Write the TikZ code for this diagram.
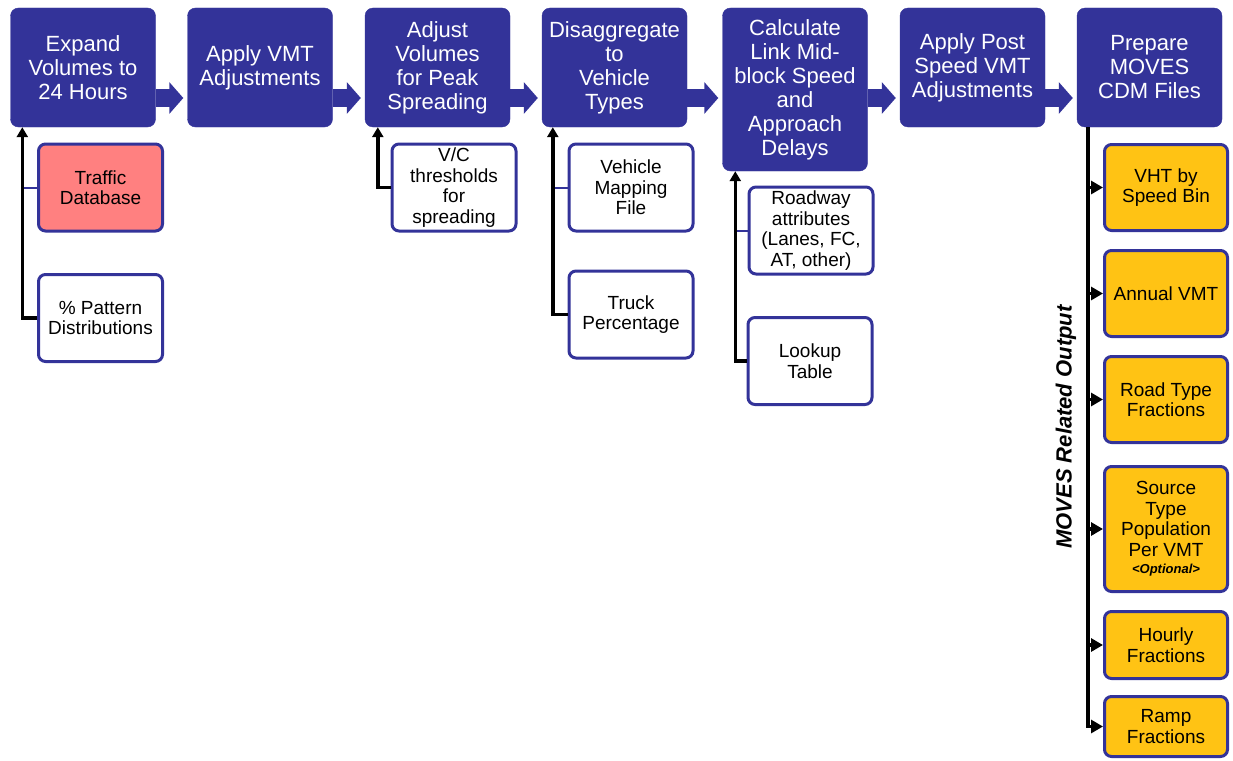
\documentclass[tikz,border=0pt]{standalone}
\usepackage{fontspec}
\setmainfont{Liberation Sans}
\usetikzlibrary{arrows.meta}
\definecolor{navy}{RGB}{51,51,153}
\definecolor{rose}{RGB}{255,128,128}
\definecolor{gold}{RGB}{255,195,20}
\begin{document}
\begin{tikzpicture}[x=1pt,y=-1pt,
    stage/.style={fill=navy,draw=navy,rounded corners=8pt,text=white,
          align=center,minimum width=145pt,minimum height=119pt,inner sep=0pt,
          font=\fontsize{22}{24}\selectfont},
    input/.style={fill=white,draw=navy,line width=3pt,rounded corners=7pt,
          align=center,minimum width=124pt,minimum height=87pt,inner sep=0pt,
          font=\fontsize{19}{20.5}\selectfont},
    output/.style={input,fill=gold,minimum width=123pt},
    flow/.style={draw=navy,line width=18pt,-{Triangle[length=14pt,width=31pt]},
          shorten >=4pt},
    feed/.style={draw=black,line width=3.5pt,-{Triangle[length=10pt,width=11pt]}},
    tie/.style={draw=navy,line width=2pt},
    tip/.style={draw=black,line width=3.5pt,-{Triangle[length=12pt,width=13pt]}}]
  \useasboundingbox (0,0) rectangle (1233,760);
  % main stages
  \node[stage] (exp) at (83,67.5) {Expand\\Volumes to\\24 Hours};
  \node[stage] (vmt) at (260,67.5) {Apply VMT\\Adjustments};
  \node[stage] (peak) at (437.5,67.5) {Adjust\\Volumes\\for Peak\\Spreading};
  \node[stage] (dis) at (614.5,67.5) {Disaggregate\\to\\Vehicle\\Types};
  \node[stage,minimum height=163pt] (spd) at (795,89.5)
       {Calculate\\Link Mid-\\block Speed\\and\\Approach\\Delays};
  \node[stage] (post) at (972.5,67.5) {Apply Post\\Speed VMT\\Adjustments};
  \node[stage] (prep) at (1149.5,67.5) {Prepare\\MOVES\\CDM Files};
  \coordinate (lane) at (0,98);
  \draw[flow] (exp.east |- lane) -- (vmt.west |- lane);
  \draw[flow] (vmt.east |- lane) -- (peak.west |- lane);
  \draw[flow] (peak.east |- lane) -- (dis.west |- lane);
  \draw[flow] (dis.east |- lane) -- (spd.west |- lane);
  \draw[flow] (spd.east |- lane) -- (post.west |- lane);
  \draw[flow] (post.east |- lane) -- (prep.west |- lane);
  % inputs
  \node[input,fill=rose] (traffic) at (100.5,187.5) {Traffic\\Database};
  \node[input] (pattern) at (100.5,318) {\% Pattern\\Distributions};
  \node[input] (vc) at (454,187.5) {V/C\\thresholds\\for\\spreading};
  \node[input] (vmap) at (631,187.5) {Vehicle\\Mapping\\File};
  \node[input] (truck) at (631,314.5) {Truck\\Percentage};
  \node[input] (road) at (811,230.5) {Roadway\\attributes\\(Lanes, FC,\\AT, other)};
  \node[input] (lookup) at (810,361) {Lookup\\Table};
  \coordinate (t1) at ([xshift=12pt]exp.south west);
  \coordinate (t3) at ([xshift=13pt]peak.south west);
  \coordinate (t4) at ([xshift=11pt]dis.south west);
  \coordinate (t5) at ([xshift=13pt]spd.south west);
  \draw[tie] (traffic.west) -- (traffic.west -| t1);
  \draw[feed] (pattern.west) -| (t1);
  \draw[feed] (vc.west) -| (t3);
  \draw[tie] (vmap.west) -- (vmap.west -| t4);
  \draw[feed] (truck.west) -| (t4);
  \draw[tie] (road.west) -- (road.west -| t5);
  \draw[feed] (lookup.west) -| (t5);
  % outputs
  \node[output,minimum height=86pt] (vht) at (1166,187.5) {VHT by\\Speed Bin};
  \node[output,minimum height=86pt] (annual) at (1166,293.5) {Annual VMT};
  \node[output,minimum height=86pt] (rtype) at (1166,399.5) {Road Type\\Fractions};
  \node[output,minimum height=125pt] (srcpop) at (1166,529)
       {Source\\Type\\Population\\Per VMT\\[-3pt]{\fontsize{13}{14}\selectfont\bfseries\itshape <Optional>}};
  \node[output,minimum height=67pt] (hourly) at (1166,645) {Hourly\\Fractions};
  \node[output,minimum height=60pt] (ramp) at (1166,726.5) {Ramp\\Fractions};
  \node[rotate=90,font=\fontsize{22}{24}\selectfont\bfseries\itshape] (lbl)
       at (1066,427) {MOVES Related Output};
  \coordinate (t7) at ([xshift=11pt]prep.south west);
  \draw[tip] (t7) |- (ramp.west);
  \draw[tip] (vht.west -| t7) -- (vht.west);
  \draw[tip] (annual.west -| t7) -- (annual.west);
  \draw[tip] (rtype.west -| t7) -- (rtype.west);
  \draw[tip] (srcpop.west -| t7) -- (srcpop.west);
  \draw[tip] (hourly.west -| t7) -- (hourly.west);
\end{tikzpicture}
\end{document}
